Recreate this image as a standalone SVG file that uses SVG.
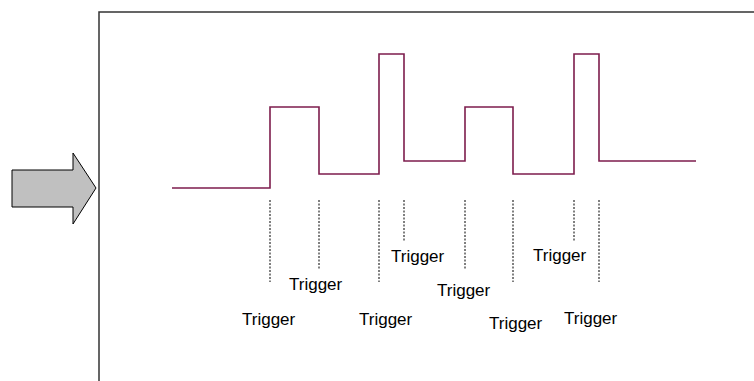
<svg xmlns="http://www.w3.org/2000/svg" width="754" height="381" viewBox="0 0 754 381">
  <style>
    .frame { fill: none; stroke: #333333; stroke-width: 1.5; }
    .arrow { fill: #c0c0c0; stroke: #000000; stroke-width: 1; }
    .wave { fill: none; stroke: #7d1d4d; stroke-width: 1.6; }
    .dash { stroke: #000000; stroke-width: 1; stroke-dasharray: 2 1.5; }
    .lbl { font-family: "Liberation Sans", Arial, sans-serif; font-size: 17px; fill: #000000; }
  </style>
  <rect width="754" height="381" fill="#ffffff"/>
  <g id="frame">
    <path class="frame" d="M99,381 V12 H754"/>
  </g>
  <g id="arrow">
    <polygon class="arrow" points="12,170 73,170 73,153 96,188 73,224 73,207 12,207"/>
  </g>
  <g id="waveform">
    <polyline class="wave" points="172,188 270,188 270,107 319,107 319,174 379,174 379,54 404,54 404,161 465,161 465,107 513,107 513,174 574,174 574,54 599,54 599,161 696,161"/>
  </g>
  <g id="connectors">
    <line class="dash" x1="270" y1="200" x2="270" y2="282"/>
    <line class="dash" x1="319" y1="200" x2="319" y2="269"/>
    <line class="dash" x1="379" y1="200" x2="379" y2="282"/>
    <line class="dash" x1="404" y1="200" x2="404" y2="242"/>
    <line class="dash" x1="465" y1="200" x2="465" y2="269"/>
    <line class="dash" x1="513" y1="200" x2="513" y2="282"/>
    <line class="dash" x1="574" y1="200" x2="574" y2="242"/>
    <line class="dash" x1="599" y1="200" x2="599" y2="282"/>
  </g>
  <g id="labels">
    <text class="lbl" x="242" y="325">Trigger</text>
    <text class="lbl" x="289" y="290">Trigger</text>
    <text class="lbl" x="359" y="325">Trigger</text>
    <text class="lbl" x="391" y="262">Trigger</text>
    <text class="lbl" x="437" y="296">Trigger</text>
    <text class="lbl" x="489" y="329">Trigger</text>
    <text class="lbl" x="533" y="261">Trigger</text>
    <text class="lbl" x="564" y="324">Trigger</text>
  </g>
</svg>
